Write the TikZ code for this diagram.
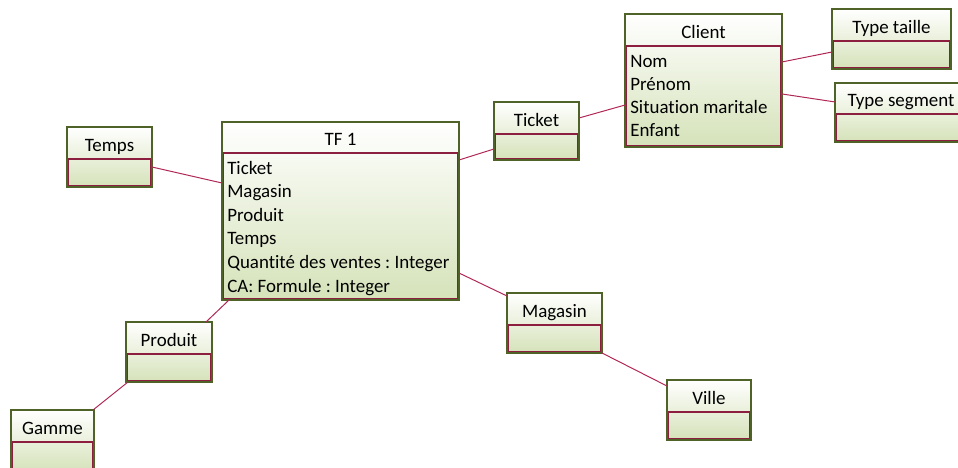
\documentclass[tikz,border=0pt]{standalone}
\usepackage{fontspec}
\setmainfont{Carlito}[Ligatures={NoCommon,NoRequired,NoContextual}]
\frenchspacing
\definecolor{boxgreen}{HTML}{4F6228}
\definecolor{bodyred}{HTML}{8C1F3F}
\definecolor{sepred}{HTML}{C0506E}
\definecolor{linkred}{HTML}{B02858}
\definecolor{bodybot}{HTML}{D5E2B9}
\tikzset{
  frame/.style={draw=boxgreen, line width=1.6pt, rectangle, inner sep=0pt, outer sep=0pt},
  bodyline/.style={draw=bodyred, line width=0.8pt},
  sepline/.style={draw=sepred, line width=0.7pt},
  title/.style={anchor=base, inner sep=0pt, font=\fontsize{14.2pt}{17pt}\selectfont},
  attr/.style={anchor=base west, inner sep=0pt, font=\fontsize{14.2pt}{17pt}\selectfont},
  link/.style={draw=linkred, line width=0.75pt},
}
% #1 name, #2 x1, #3 y1, #4 x2, #5 y2, #6 separator y, #7 title
\newcommand{\umlbox}[7]{%
  \shade[top color=white, bottom color=bodybot] (#2,#3) rectangle (#4,#5);
  \draw[sepline] (#2,#6) -- (#4,#6);
  \draw[bodyline] ({#2+1.3},#6) rectangle ({#4-1.3},{#5-1.3});
  \node[frame, minimum width={(#4-#2)*0.75pt}, minimum height={(#5-#3)*0.75pt}]
    (#1) at ({(#2+#4)/2},{(#3+#5)/2}) {};
  \node[title] (#1-t) at ({(#2+#4)/2},{(#3+#6)/2+8}) {#7};
}
\begin{document}
\begin{tikzpicture}[x=0.75pt, y=-0.75pt]
\useasboundingbox (0,0) rectangle (958,468);

\umlbox{tf}{222}{122}{459}{300}{153}{TF 1}
\umlbox{client}{625}{14}{782}{147}{46}{Client}
\umlbox{taille}{832}{9}{951}{69}{41}{Type taille}
\umlbox{segment}{835}{83}{967}{142}{114}{Type segment}
\umlbox{ticket}{494}{102}{579}{160}{134}{Ticket}
\umlbox{temps}{67}{127}{152}{187}{159}{Temps}
\umlbox{produit}{126}{322}{212}{382}{354}{Produit}
\umlbox{gamme}{11}{410}{94}{472}{442}{Gamme}
\umlbox{magasin}{507}{293}{602}{353}{325}{Magasin}
\umlbox{ville}{667}{380}{751}{440}{412}{Ville}

% attributes of TF 1
\node[attr] (tfa1) at (227,174) {Ticket};
\node[attr] (tfa2) at (227,197.6) {Magasin};
\node[attr] (tfa3) at (227,221.2) {Produit};
\node[attr] (tfa4) at (227,244.8) {Temps};
\node[attr] (tfa5) at (227,268.4) {Quantité des ventes : Integer};
\node[attr] (tfa6) at (227,292) {CA: Formule : Integer};

% attributes of Client
\node[attr] (cla1) at (630,67) {Nom};
\node[attr] (cla2) at (630,90.3) {Prénom};
\node[attr] (cla3) at (630,113.6) {Situation maritale};
\node[attr] (cla4) at (630,136.9) {Enfant};

% connectors
\draw[link] ([yshift=-7.5pt]temps.east) -- ([yshift=21pt]tf.west);
\draw[link] ([yshift=38.25pt]tf.east) -- ([yshift=-13.5pt]ticket.west);
\draw[link] ([yshift=9.75pt]ticket.east) -- ([yshift=-18.4pt]client.west);
\draw[link] ([yshift=13.9pt]client.east) -- ([yshift=-9.75pt]taille.west);
\draw[link] ([yshift=-10.1pt]client.east) -- ([yshift=7.9pt]segment.west);
\draw[link] ([yshift=-46.5pt]tf.east) -- ([yshift=-2.25pt]magasin.north west);
\draw[link] (magasin.south east) -- ([yshift=-4.5pt]ville.north west);
\draw[link] ([xshift=5.25pt]tf.south west) -- ([xshift=-4.5pt]produit.north east);
\draw[link] ([xshift=1.5pt]produit.south west) -- ([xshift=-0.75pt]gamme.north east);
\end{tikzpicture}
\end{document}
